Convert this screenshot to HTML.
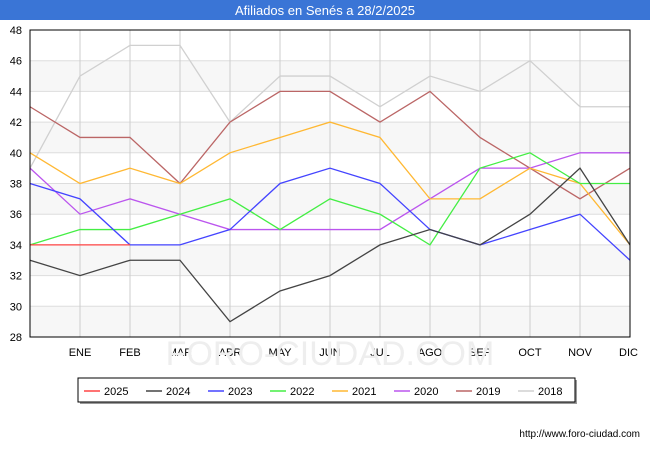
<!DOCTYPE html>
<html><head><meta charset="utf-8"><style>
body{margin:0;background:#fff;font-family:"Liberation Sans",sans-serif}
svg text{font-family:"Liberation Sans",sans-serif}
</style></head><body>
<svg id="c" width="650" height="450">
<rect x="0" y="0" width="650" height="20" fill="#3a75d6"/>
<text x="325" y="15" text-anchor="middle" fill="#fff" font-size="13">Afiliados en Senés a 28/2/2025</text>
<g id="grid"></g><g id="lines"></g>
<rect x="30" y="30" width="600" height="307" fill="none" stroke="#000" stroke-width="1"/>
<g id="legend"></g>
<text x="640" y="437" text-anchor="end" font-size="10" fill="#000">http://www.foro-ciudad.com</text>
</svg>
<script>
const months=["","ENE","FEB","MAR","ABR","MAY","JUN","JUL","AGO","SEP","OCT","NOV","DIC"];
const yTicks=[28,30,32,34,36,38,40,42,44,46,48];
const seriesNames=["2025","2024","2023","2022","2021","2020","2019","2018"];
const colors=["#ff4444","#444444","#4444ff","#44ee44","#ffb833","#bb55ee","#bb6666","#d0d0d0"];
const s2025=[34,34,34];
const s2024=[33,32,33,33,29,31,32,34,35,34,36,39,34];
const s2023=[38,37,34,34,35,38,39,38,35,34,35,36,33];
const s2022=[34,35,35,36,37,35,37,36,34,39,40,38,38];
const s2021=[40,38,39,38,40,41,42,41,37,37,39,38,34];
const s2020=[39,36,37,36,35,35,35,35,37,39,39,40,40];
const s2019=[43,41,41,38,42,44,44,42,44,41,39,37,39];
const s2018=[39,45,47,47,42,45,45,43,45,44,46,43,43];
const allSeries=[s2025,s2024,s2023,s2022,s2021,s2020,s2019,s2018];
const NS="http://www.w3.org/2000/svg";
const X=i=>30+i*50, Y=v=>337-(v-28)*(307/20);
const g=document.getElementById('grid');
function mk(t,a,p){const e=document.createElementNS(NS,t);for(const k in a)e.setAttribute(k,a[k]);p.appendChild(e);return e;}
for(let i=0;i<yTicks.length-1;i++){if(i%2==0){const r=mk('rect',{x:30,y:Y(yTicks[i+1]),width:600,height:Y(yTicks[i])-Y(yTicks[i+1]),fill:'#f7f7f7'},g);

}}
yTicks.forEach(v=>{const l=mk('line',{x1:30,x2:630,y1:Y(v),y2:Y(v),stroke:'#dddddd'},g);


const t=mk('text',{x:22,y:Y(v)+4,'text-anchor':'end','font-size':11},g);t.textContent=v;

});
months.forEach((m,i)=>{if(i>0){const l=mk('line',{x1:X(i),x2:X(i),y1:30,y2:337,stroke:'#cccccc'},g);

}
const t=mk('text',{x:X(i),y:356,'text-anchor':i==12?'end':'middle','font-size':11},g);t.textContent=m;
if(i==12)t.setAttribute('x',X(i)+8);

});
const wm=mk('text',{x:330,y:365,'text-anchor':'middle','font-size':34,fill:'#eeeeee'},g);wm.textContent='FORO-CIUDAD.COM';


const L=document.getElementById('lines');
for(let k=allSeries.length-1;k>=0;k--){const d=allSeries[k];
const p=mk('polyline',{points:d.map((v,i)=>X(i)+','+Y(v)).join(' '),fill:'none',stroke:colors[k],'stroke-width':1.3},L);

}
const lg=document.getElementById('legend');
mk('rect',{x:80,y:380,width:497,height:24,fill:'#999'},lg);
mk('rect',{x:78,y:378,width:497,height:24,fill:'#fff',stroke:'#000'},lg);
seriesNames.forEach((n,k)=>{const x=84+k*62;
const l=mk('line',{x1:x,x2:x+16,y1:391,y2:391,stroke:colors[k],'stroke-width':1.5},lg);


const t=mk('text',{x:x+20,y:395,'font-size':11},lg);t.textContent=n;

});
</script>
</body></html>
